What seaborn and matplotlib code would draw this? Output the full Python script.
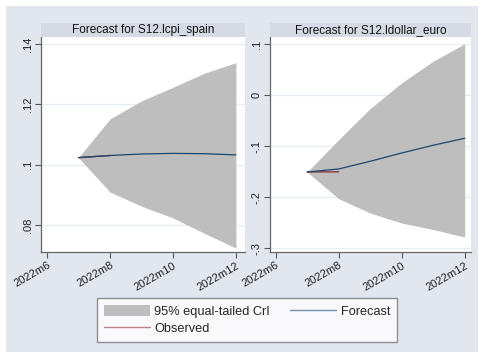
import matplotlib
matplotlib.use("Agg")
import matplotlib.pyplot as plt
from matplotlib.patches import Rectangle, Patch
from matplotlib.lines import Line2D
import seaborn as sns

# Forecast horizon (months of 2022)
months = [7, 8, 9, 10, 11, 12]
tick_months = [6, 8, 10, 12]
tick_labels = ["2022m6", "2022m8", "2022m10", "2022m12"]

# S12.lcpi_spain
cpi_forecast = [0.1023, 0.1030, 0.1035, 0.1037, 0.1036, 0.1032]
cpi_lower = [0.1023, 0.0909, 0.0862, 0.0823, 0.0772, 0.0723]
cpi_upper = [0.1023, 0.1151, 0.1211, 0.1256, 0.1303, 0.1338]
cpi_obs_months = [7, 8]
cpi_observed = [0.1023, 0.1030]

# S12.ldollar_euro
fx_forecast = [-0.1503, -0.1444, -0.1294, -0.1131, -0.0980, -0.0843]
fx_lower = [-0.1503, -0.2026, -0.2307, -0.2503, -0.2630, -0.2778]
fx_upper = [-0.1503, -0.0870, -0.0261, 0.0242, 0.0667, 0.1007]
fx_obs_months = [7, 8]
fx_observed = [-0.1503, -0.1500]

cpi_yticks = [0.08, 0.10, 0.12, 0.14]
cpi_ylabels = [".08", ".1", ".12", ".14"]
fx_yticks = [-0.3, -0.2, -0.1, 0.0, 0.1]
fx_ylabels = ["-.3", "-.2", "-.1", "0", ".1"]

sns.set_theme(style="white")
plt.rcParams["font.family"] = ["Liberation Sans", "DejaVu Sans"]

BG = "#e2e6ef"
STRIP = "#d5dae4"
GRID = "#e6ecf2"
BAND = "#bebebe"
FC = "#1a476f"
OBS = "#90353b"

W, H = 483, 354
fig = plt.figure(figsize=(W / 100, H / 100), dpi=100)
fig.patch.set_facecolor("white")
fig.add_artist(Rectangle((6 / W, 2 / H), 472 / W, 346 / H, transform=fig.transFigure,
                         facecolor=BG, edgecolor="none", zorder=-10))


def px_axes(x0, x1, y0, y1):
    return fig.add_axes([x0 / W, 1 - y1 / H, (x1 - x0) / W, (y1 - y0) / H])


def panel(ax, title, fc, lo, hi, om, ob, yticks, ylabels, xlim, ylim):
    ax.set_facecolor("white")
    for y in yticks:
        ax.axhline(y, color=GRID, lw=1.0, zorder=0)
    ax.fill_between(months, lo, hi, color=BAND, lw=0, zorder=1)
    sns.lineplot(x=om, y=ob, ax=ax, color=OBS, lw=1.0, zorder=2)
    sns.lineplot(x=months, y=fc, ax=ax, color=FC, lw=0.9, zorder=3)
    ax.set_xlim(*xlim)
    ax.set_ylim(*ylim)
    ax.set_xticks(tick_months)
    ax.set_xticklabels(tick_labels, rotation=30, ha="right", rotation_mode="anchor")
    ax.set_yticks(yticks)
    ax.set_yticklabels(ylabels, rotation=90, va="center")
    ax.tick_params(axis="both", which="both", direction="out", length=4, width=0.8,
                   color="#555555", labelsize=8, labelcolor="#222222", pad=2,
                   bottom=True, left=True)
    for s in ["top", "right"]:
        ax.spines[s].set_visible(False)
    for s in ["left", "bottom"]:
        ax.spines[s].set_color("#666666")
        ax.spines[s].set_linewidth(0.9)
    ax.set_xlabel("")
    ax.set_ylabel("")
    # title strip above the plot region
    bb = ax.get_position()
    fig.add_artist(Rectangle((bb.x0, bb.y1), bb.width, 14 / H, transform=fig.transFigure,
                             facecolor=STRIP, edgecolor="none"))
    fig.text(bb.x0 + bb.width / 2, bb.y1 + 7 / H, title, ha="center", va="center",
             fontsize=8.5, color="#111111")


ax1 = px_axes(41, 245, 37, 252)
panel(ax1, "Forecast for S12.lcpi_spain", cpi_forecast, cpi_lower, cpi_upper,
      cpi_obs_months, cpi_observed, cpi_yticks, cpi_ylabels,
      (5.81, 12.29), (0.0710, 0.1423))

ax2 = px_axes(270, 471, 37, 252)
panel(ax2, "Forecast for S12.ldollar_euro", fx_forecast, fx_lower, fx_upper,
      fx_obs_months, fx_observed, fx_yticks, fx_ylabels,
      (5.82, 12.2), (-0.307, 0.114))

handles = [Patch(facecolor=BAND, edgecolor="none"),
           Line2D([], [], color=OBS, lw=1.0, alpha=0.6),
           Line2D([], [], color=FC, lw=1.0, alpha=0.6)]
labels = ["95% equal-tailed CrI", "Observed", "Forecast"]
leg = fig.legend(handles, labels, ncol=2, loc="center",
                 bbox_to_anchor=(247 / W, 1 - 320 / H), fontsize=9.2,
                 frameon=True, fancybox=False, handlelength=3.6, handleheight=1.0,
                 columnspacing=1.6, handletextpad=0.35, labelspacing=0.35,
                 borderpad=0.55, borderaxespad=0)
leg.get_frame().set_edgecolor("#777777")
leg.get_frame().set_linewidth(1.0)
leg.get_frame().set_facecolor("white")

fig.savefig("out.png", dpi=100, facecolor=fig.get_facecolor())
